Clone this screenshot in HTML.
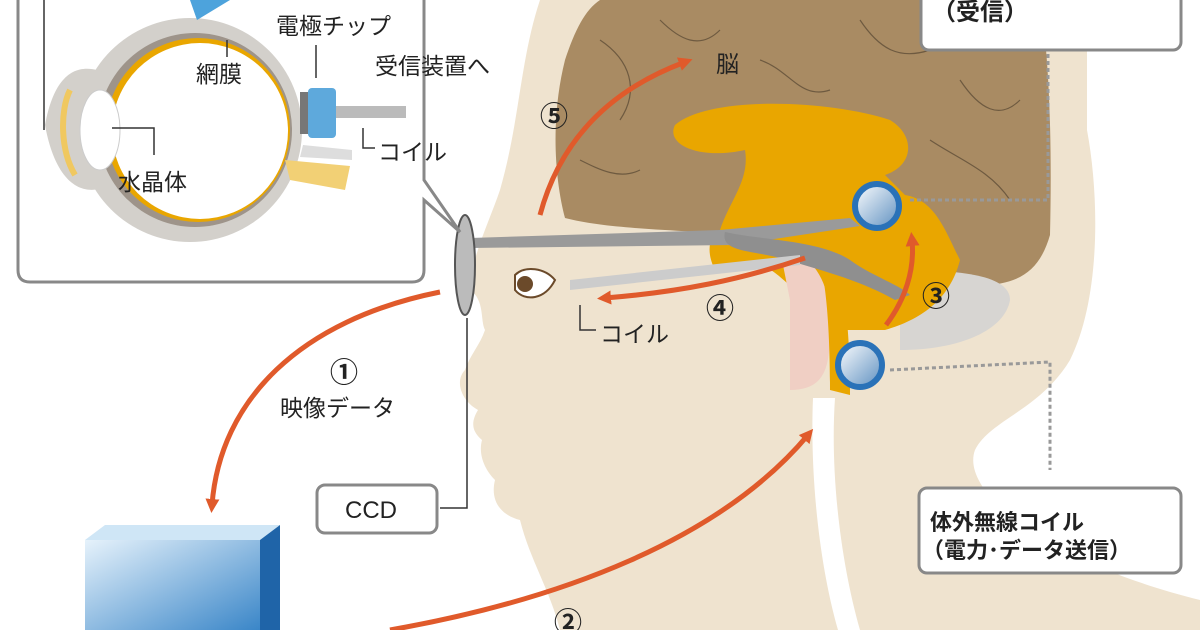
<!DOCTYPE html>
<html><head><meta charset="utf-8"><style>
html,body{margin:0;padding:0;background:#fff}
svg{display:block}
text{font-family:"Liberation Sans","Noto Sans CJK JP",sans-serif;fill:#222}
</style></head><body>
<svg width="1200" height="630" viewBox="0 0 1200 630" xmlns="http://www.w3.org/2000/svg">
<defs>
<linearGradient id="lens" x1="0" y1="0" x2="1" y2="1"><stop offset="0" stop-color="#fff"/><stop offset="1" stop-color="#5d8fc0"/></linearGradient>
<linearGradient id="box" x1="0" y1="0" x2="1" y2="1"><stop offset="0" stop-color="#e6f2fb"/><stop offset="1" stop-color="#3a86c8"/></linearGradient>
<marker id="ar" markerWidth="14" markerHeight="14" refX="6" refY="7" orient="auto" markerUnits="userSpaceOnUse" viewBox="0 0 14 14"><path d="M0,0 L14,7 L0,14 z" fill="#e05a2b"/></marker>
</defs>
<!-- head -->
<path d="M540,0 L1200,0 L1200,630 L560,630 C550,590 530,560 520,520 C500,515 490,500 495,480 C485,470 478,455 482,440 C470,430 472,420 478,410 C460,400 455,380 465,370 C470,355 480,345 485,330 C480,320 485,300 470,290 C470,260 490,220 500,190 C520,120 520,60 540,0 Z" fill="#efe3cf"/>
<path d="M1087,130 C1100,200 1100,300 1070,360 C1040,410 990,420 975,450 C960,490 1040,560 1200,600 L1200,0 L1087,0 Z" fill="#fff"/>
<!-- brain -->
<path d="M600,0 L1040,0 C1050,60 1052,150 1050,235 C1040,270 1020,285 980,285 L900,280 C850,270 780,240 740,235 C690,230 610,230 565,218 C555,180 550,120 565,60 C575,30 585,10 600,0 Z" fill="#a98b63"/>
<g stroke="#6e5a40" stroke-width="1.2" fill="none">
<path d="M600,40 C630,60 640,90 620,120"/><path d="M660,20 C680,40 700,50 720,30"/><path d="M760,60 C790,70 800,100 830,90"/><path d="M860,20 C880,50 900,60 930,50"/><path d="M960,80 C980,110 1000,120 1020,100"/><path d="M930,140 C960,160 990,170 1010,200"/><path d="M580,160 C600,170 620,180 640,170"/></g>
<!-- cerebellum -->
<path d="M900,270 C960,270 1010,275 1010,300 C1005,330 960,350 900,350 Z" fill="#d7d5d2"/>
<!-- orange inner -->
<path d="M675,125 C710,95 830,100 890,120 C915,135 915,165 885,175 L905,195 C935,200 945,230 960,260 C950,300 920,320 885,330 L840,330 C800,300 780,270 760,265 L715,270 C705,250 710,235 720,230 C730,200 750,180 745,150 C700,160 665,145 675,125 Z" fill="#e9a600"/>
<path d="M780,250 C810,250 830,280 830,320 C830,360 830,390 790,390 L790,300 Z" fill="#f0cfc4"/>
<path d="M800,240 C820,230 830,290 830,390 L850,395 C850,300 840,260 820,240 Z" fill="#e9a600"/>
<!-- neck white tube -->
<path d="M813,398 L835,398 C830,470 840,560 860,630 L838,630 C818,560 810,470 813,398 Z" fill="#fff"/>
<!-- glasses -->
<path d="M470,238 L720,230 L850,218 L860,226 L735,245 L470,248 Z" fill="#9a9a9a"/>
<path d="M725,232 C760,240 820,240 850,260 C870,275 900,285 910,295 L895,300 C860,280 820,270 780,258 C750,250 720,252 725,232 Z" fill="#8f8f8f"/>
<ellipse cx="465" cy="265" rx="10" ry="50" fill="#bbb" stroke="#555" stroke-width="2"/>
<path d="M570,280 L800,255 L800,265 L570,290 Z" fill="#ccc"/>
<path d="M515,275 C525,265 545,268 555,280 C545,300 525,302 515,290 Z" fill="#fff" stroke="#6b4a2a" stroke-width="2"/>
<circle cx="525" cy="284" r="8" fill="#6b4a2a"/>
<!-- implant coils -->
<circle cx="877" cy="206" r="22" fill="url(#lens)" stroke="#2a72b8" stroke-width="6"/>
<circle cx="860" cy="365" r="22" fill="url(#lens)" stroke="#2a72b8" stroke-width="6"/>
<path d="M890,370 L1050,362 L1050,470" stroke="#999" stroke-width="3" stroke-dasharray="4,3" fill="none"/>
<path d="M910,200 L1048,200 L1048,45" stroke="#999" stroke-width="3" stroke-dasharray="4,3" fill="none"/>
<!-- boxes -->
<rect x="921" y="-20" width="260" height="70" rx="8" fill="#fff" stroke="#888" stroke-width="3"/>
<text x="932" y="20" font-size="24" font-weight="bold">（受信）</text>
<rect x="919" y="488" width="262" height="85" rx="8" fill="#fff" stroke="#888" stroke-width="3"/>
<text x="930" y="530" font-size="22" font-weight="bold">体外無線コイル</text>
<text x="922" y="558" font-size="22" font-weight="bold">（電力･データ送信）</text>
<!-- eye inset -->
<path d="M18,0 L18,270 Q18,282 30,282 L412,282 Q424,282 424,270 L424,200 L460,232 L424,180 L424,0" fill="#fff" stroke="#888" stroke-width="3"/>
<line x1="44" y1="0" x2="44" y2="130" stroke="#333" stroke-width="1.5"/>
<circle cx="190" cy="130" r="112" fill="#d3d0cb"/>
<path d="M45,125 C55,70 80,60 110,75 L110,185 C80,200 55,180 45,125 Z" fill="#d3d0cb"/>
<circle cx="195" cy="130" r="97" fill="#9e948a"/>
<circle cx="198" cy="130" r="92" fill="#e9a600"/>
<circle cx="200" cy="131" r="88" fill="#fff"/>
<ellipse cx="100" cy="130" rx="20" ry="40" fill="#fff" stroke="#ccc"/>
<path d="M70,90 C60,110 60,150 75,175" stroke="#f0c860" stroke-width="6" fill="none"/>
<path d="M190,0 L230,0 L197,20 Z" fill="#4da3dc"/>
<rect x="308" y="88" width="28" height="50" rx="4" fill="#5ea9dc"/>
<rect x="300" y="92" width="8" height="42" fill="#777"/>
<rect x="336" y="106" width="70" height="12" fill="#bbb"/>
<path d="M303,145 L352,150 L352,160 L300,157 Z" fill="#ddd"/>
<path d="M285,160 L350,166 L345,190 L290,180 Z" fill="#f2d075"/>
<line x1="227" y1="40" x2="227" y2="57" stroke="#333" stroke-width="1.5"/>
<text x="196" y="82" font-size="23">網膜</text>
<text x="276" y="34" font-size="23">電極チップ</text>
<line x1="316" y1="45" x2="316" y2="78" stroke="#333" stroke-width="1.5"/>
<text x="375" y="74" font-size="23">受信装置へ</text>
<path d="M363,128 L363,148 L375,148" stroke="#333" stroke-width="1.5" fill="none"/>
<text x="378" y="160" font-size="23">コイル</text>
<path d="M112,128 L154,128 L154,155" stroke="#333" stroke-width="1.5" fill="none"/>
<text x="118" y="190" font-size="23">水晶体</text>
<!-- arrows -->
<g stroke="#e05a2b" stroke-width="5" fill="none">
<path d="M540,215 C560,140 610,90 685,62" marker-end="url(#ar)"/>
<path d="M805,258 C740,280 680,292 605,298" marker-end="url(#ar)"/>
<path d="M886,325 C905,300 915,270 912,240" marker-end="url(#ar)"/>
<path d="M440,292 C300,320 220,400 212,505" marker-end="url(#ar)"/>
<path d="M390,630 C560,600 720,540 808,435" marker-end="url(#ar)"/>
</g>
<text x="716" y="72" font-size="23">脳</text>
<text x="540" y="126" font-size="28" font-weight="bold">⑤</text>
<text x="706" y="318" font-size="28" font-weight="bold">④</text>
<path d="M580,305 L580,330 L596,330" stroke="#333" stroke-width="1.5" fill="none"/>
<text x="600" y="342" font-size="23">コイル</text>
<text x="922" y="306" font-size="28" font-weight="bold">③</text>
<text x="330" y="382" font-size="28" font-weight="bold">①</text>
<text x="280" y="416" font-size="23">映像データ</text>
<text x="554" y="632" font-size="28" font-weight="bold">②</text>
<path d="M467,318 L467,508 L440,508" stroke="#333" stroke-width="1.5" fill="none"/>
<rect x="317" y="485" width="120" height="48" rx="8" fill="#fff" stroke="#888" stroke-width="3"/>
<text x="345" y="518" font-size="24">CCD</text>
<!-- computer -->
<path d="M85,540 L105,525 L280,525 L260,540 Z" fill="#cfe6f6"/>
<rect x="85" y="540" width="175" height="90" fill="url(#box)"/>
<path d="M260,540 L280,525 L280,630 L260,630 Z" fill="#1f64a8"/>
</svg>
</body></html>
